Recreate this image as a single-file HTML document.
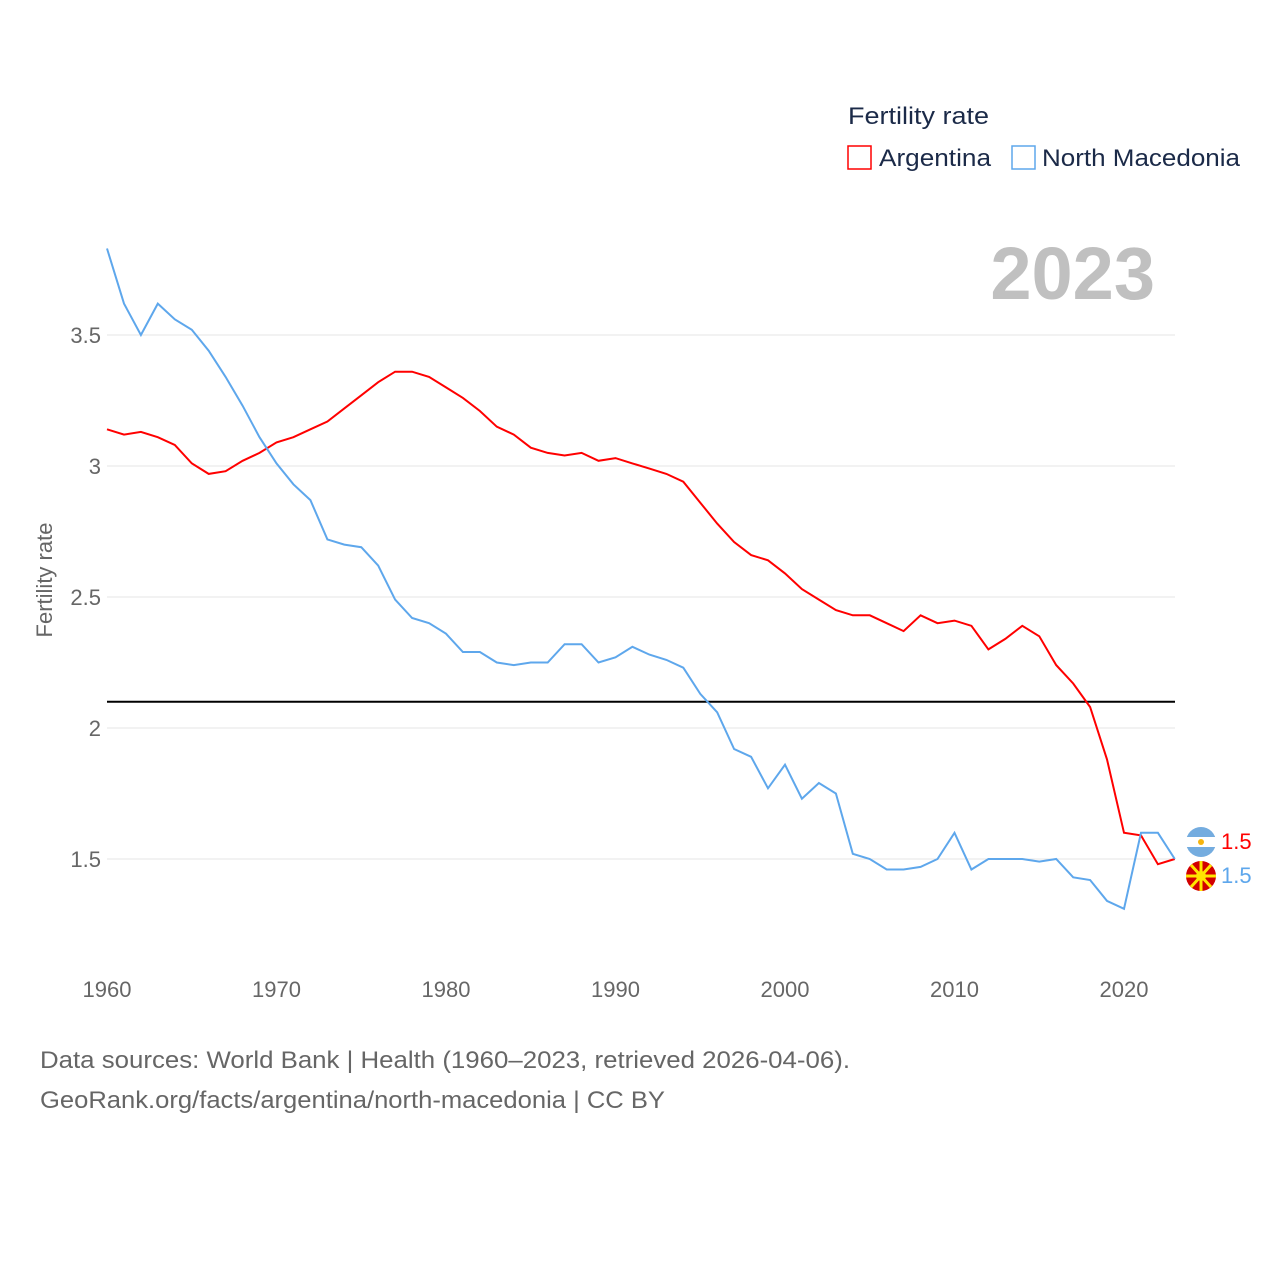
<!DOCTYPE html>
<html><head><meta charset="utf-8"><style>
body{margin:0;background:#fff;font-family:"Liberation Sans",sans-serif;}
</style></head><body>
<svg width="1280" height="1280" xmlns="http://www.w3.org/2000/svg">
<g id="grid"></g>
<g id="yt" font-size="22" fill="#666" text-anchor="end"></g>
<g id="xt" font-size="22" fill="#666" text-anchor="middle"></g>
<text x="52" y="580" font-size="22" fill="#666" text-anchor="middle" transform="rotate(-90 52 580)">Fertility rate</text>
<text x="1155" y="299" font-size="74" font-weight="bold" fill="#c0c0c0" text-anchor="end">2023</text>
<line id="ref" x1="107" x2="1175" stroke="#000" stroke-width="2"/>
<path id="pA" fill="none" stroke="#ff0000" stroke-width="2"/>
<path id="pM" fill="none" stroke="#5ea7ec" stroke-width="2"/>
<g>
<text x="848" y="124" font-size="24" fill="#1b2a48" textLength="141" lengthAdjust="spacingAndGlyphs">Fertility rate</text>
<rect x="848" y="146" width="23" height="23" fill="none" stroke="#ff0000" stroke-width="1.5"/>
<text x="879" y="166" font-size="24" fill="#1b2a48" textLength="112" lengthAdjust="spacingAndGlyphs">Argentina</text>
<rect x="1012" y="146" width="23" height="23" fill="none" stroke="#5ea7ec" stroke-width="1.5"/>
<text x="1042" y="166" font-size="24" fill="#1b2a48" textLength="198" lengthAdjust="spacingAndGlyphs">North Macedonia</text>
</g>
<g>
<circle cx="1201" cy="842" r="15" fill="#74acdf"/>
<rect x="1186" y="837" width="30" height="10" fill="#fff"/>
<circle cx="1201" cy="842" r="3" fill="#f6b40e"/>
<circle cx="1201" cy="876" r="15" fill="#d20000"/>
<circle cx="1201" cy="876" r="5" fill="#ffe600"/>
<path d="M1201 876 L1191 865 M1201 876 L1211 865 M1201 876 L1191 887 M1201 876 L1211 887 M1201 876 L1186 876 M1201 876 L1216 876 M1201 876 L1201 861 M1201 876 L1201 891" stroke="#ffe600" stroke-width="3"/>
<text x="1221" y="849" font-size="22" fill="#ff0000">1.5</text>
<text x="1221" y="883" font-size="22" fill="#5ea7ec">1.5</text>
</g>
<text x="40" y="1068" font-size="24" fill="#666" textLength="810" lengthAdjust="spacingAndGlyphs">Data sources: World Bank | Health (1960–2023, retrieved 2026-04-06).</text>
<text x="40" y="1108" font-size="24" fill="#666" textLength="625" lengthAdjust="spacingAndGlyphs">GeoRank.org/facts/argentina/north-macedonia | CC BY</text>
</svg>
<script>
const years=[];for(let y=1960;y<=2023;y++)years.push(y);
const argentina=[3.14,3.12,3.13,3.11,3.08,3.01,2.97,2.98,3.02,3.05,3.09,3.11,3.14,3.17,3.22,3.27,3.32,3.36,3.36,3.34,3.30,3.26,3.21,3.15,3.12,3.07,3.05,3.04,3.05,3.02,3.03,3.01,2.99,2.97,2.94,2.86,2.78,2.71,2.66,2.64,2.59,2.53,2.49,2.45,2.43,2.43,2.40,2.37,2.43,2.40,2.41,2.39,2.30,2.34,2.39,2.35,2.24,2.17,2.08,1.88,1.60,1.59,1.48,1.50];
const macedonia=[3.83,3.62,3.50,3.62,3.56,3.52,3.44,3.34,3.23,3.11,3.01,2.93,2.87,2.72,2.70,2.69,2.62,2.49,2.42,2.40,2.36,2.29,2.29,2.25,2.24,2.25,2.25,2.32,2.32,2.25,2.27,2.31,2.28,2.26,2.23,2.13,2.06,1.92,1.89,1.77,1.86,1.73,1.79,1.75,1.52,1.50,1.46,1.46,1.47,1.50,1.60,1.46,1.50,1.50,1.50,1.49,1.50,1.43,1.42,1.34,1.31,1.60,1.60,1.50];
const yTicks=[1.5,2,2.5,3,3.5];
const xTicks=[1960,1970,1980,1990,2000,2010,2020];
const refValue=2.1;
const X=y=>107+(y-1960)*16.95;
const Y=v=>859-(v-1.5)*262;
const NS="http://www.w3.org/2000/svg";
const grid=document.getElementById('grid'),yt=document.getElementById('yt'),xt=document.getElementById('xt');
yTicks.forEach(t=>{
 const l=document.createElementNS(NS,'line');
 l.setAttribute('x1',107);l.setAttribute('x2',1175);l.setAttribute('y1',Y(t));l.setAttribute('y2',Y(t));
 l.setAttribute('stroke','#e6e6e6');
 
 
 grid.appendChild(l);
 const tx=document.createElementNS(NS,'text');
 tx.setAttribute('x',101);tx.setAttribute('y',Y(t)+8);tx.textContent=String(t);
 
 
 yt.appendChild(tx);
});
xTicks.forEach(t=>{
 const tx=document.createElementNS(NS,'text');
 tx.setAttribute('x',X(t));tx.setAttribute('y',997);tx.textContent=String(t);
 
 
 xt.appendChild(tx);
});
const r=document.getElementById('ref');r.setAttribute('y1',Y(refValue));r.setAttribute('y2',Y(refValue));
const mk=a=>a.map((v,i)=>(i?'L':'M')+X(years[i]).toFixed(1)+' '+Y(v).toFixed(1)).join(' ');
document.getElementById('pA').setAttribute('d',mk(argentina));
document.getElementById('pM').setAttribute('d',mk(macedonia));
</script>
</body></html>
